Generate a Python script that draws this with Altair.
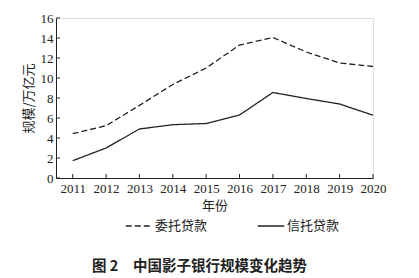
import altair as alt
import pandas as pd

years = [2011, 2012, 2013, 2014, 2015, 2016, 2017, 2018, 2019, 2020]
entrusted = [4.43, 5.23, 7.26, 9.35, 11.0, 13.3, 14.05, 12.6, 11.5, 11.15]
trust = [1.73, 3.0, 4.9, 5.33, 5.45, 6.3, 8.55, 7.95, 7.4, 6.28]
series_names = ["委托贷款", "信托贷款"]
y_ticks = [0, 2, 4, 6, 8, 10, 12, 14, 16]

rows = []
for i, yr in enumerate(years):
    rows.append({"year": yr, "value": entrusted[i], "series": series_names[0]})
    rows.append({"year": yr, "value": trust[i], "series": series_names[1]})
df = pd.DataFrame(rows)

W, H = 317, 160
serif = "Liberation Serif"
cjk = "Noto Sans CJK SC"
ink = "#222222"

xscale = alt.Scale(domain=[2010.5, 2020], nice=False, zero=False)
yscale = alt.Scale(domain=[0, 16], nice=False)

xaxis = alt.Axis(values=years, format="d", tickSize=0, labelPadding=4,
                 labelOverlap=False, labelFlush=False,
                 labelFont=serif, labelFontSize=13, labelColor=ink,
                 domainColor=ink, grid=False,
                 title="年份", titleFont=cjk, titleFontSize=13,
                 titleFontWeight="normal", titleColor=ink, titlePadding=4)
yaxis = alt.Axis(values=y_ticks, tickSize=0, labelPadding=3,
                 labelOverlap=False, labelFlush=False,
                 labelFont=serif, labelFontSize=13, labelColor=ink,
                 domainColor=ink, grid=False,
                 title="规模/万亿元", titleFont=cjk, titleFontSize=13,
                 titleFontWeight="normal", titleColor=ink, titlePadding=5)

lines = alt.Chart(df).mark_line(color=ink, strokeWidth=1.3).encode(
    x=alt.X("year:Q", scale=xscale, axis=xaxis),
    y=alt.Y("value:Q", scale=yscale, axis=yaxis),
    strokeDash=alt.StrokeDash("series:N",
        scale=alt.Scale(domain=series_names, range=[[6, 3], [1, 0]]),
        legend=alt.Legend(title=None, orient="none", legendX=69, legendY=194,
                          direction="horizontal", symbolType="stroke",
                          symbolSize=700, symbolStrokeColor=ink, symbolStrokeWidth=1.3,
                          labelFont=cjk, labelFontSize=13, labelColor=ink,
                          columnPadding=47, labelOffset=2)),
    detail="series:N",
)

xt = alt.Chart(pd.DataFrame({"year": years})).mark_rule(color=ink, strokeWidth=1).encode(
    x=alt.X("year:Q", scale=xscale, axis=xaxis),
    y=alt.value(H), y2=alt.value(H - 4),
)
yt = alt.Chart(pd.DataFrame({"value": y_ticks})).mark_rule(color=ink, strokeWidth=1).encode(
    y=alt.Y("value:Q", scale=yscale, axis=yaxis),
    x=alt.value(0), x2=alt.value(4),
)

chart = alt.layer(lines, xt, yt).properties(
    width=W, height=H,
    title=alt.TitleParams("图 2\u3000中国影子银行规模变化趋势", orient="bottom", frame="group",
                          anchor="middle", offset=27, dx=-15, font=cjk, fontSize=14.5,
                          fontWeight="bold", color=ink),
    autosize=alt.AutoSizeParams(type="none"),
    padding={"left": 56, "top": 18, "right": 46, "bottom": 100},
).configure_view(stroke=None).configure(background="white")

chart.save("out.html", embed_options={"renderer": "svg", "actions": False})
